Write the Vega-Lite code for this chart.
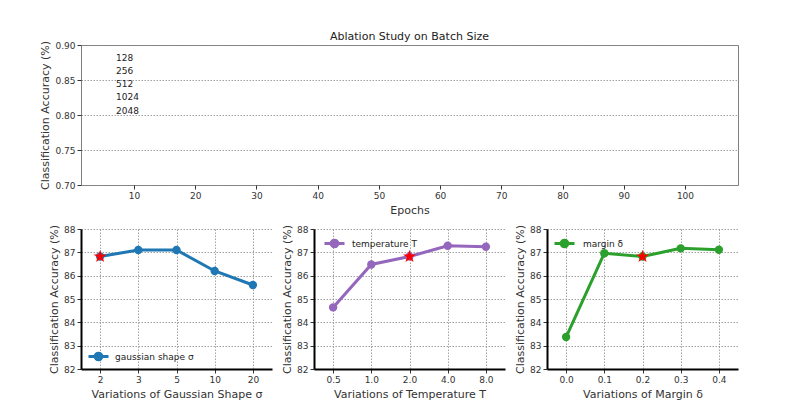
{
  "$schema": "https://vega.github.io/schema/vega-lite/v6.json",
  "padding": {"left": 39, "top": 30, "right": 5, "bottom": 5},
  "background": "white",
  "config": {
    "font": "DejaVu Sans",
    "view": {"stroke": null},
    "axis": {
      "labelFont": "DejaVu Sans", "titleFont": "DejaVu Sans",
      "labelFontSize": 9, "titleFontSize": 11, "titleFontWeight": "normal",
      "labelColor": "#333333", "titleColor": "#333333", "tickColor": "#333333",
      "gridDash": [1.5, 1.5], "gridColor": "#8a8a8a", "gridWidth": 0.8,
      "tickSize": 4
    },
    "legend": {"labelFont": "DejaVu Sans", "labelFontSize": 9, "labelColor": "#222222", "padding": 0}
  },
  "bounds": "flush",
  "spacing": 44,
  "resolve": {"scale": {"color": "independent", "x": "independent", "y": "independent"}, "legend": {"color": "independent"}},
  "vconcat": [
    {
      "width": 657,
      "height": 140,
      "title": {"text": "Ablation Study on Batch Size", "fontSize": 11, "fontWeight": "normal", "font": "DejaVu Sans", "color": "#222222", "offset": -2},
      "view": {"stroke": "#808080", "strokeWidth": 1},
      "data": {"values": [{"batch": "128"}, {"batch": "256"}, {"batch": "512"}, {"batch": "1024"}, {"batch": "2048"}]},
      "mark": {"type": "line"},
      "encoding": {
        "x": {"field": "epoch", "type": "quantitative",
          "scale": {"domain": [1.34, 108.66], "nice": false, "zero": false},
          "axis": {"values": [10, 20, 30, 40, 50, 60, 70, 80, 90, 100], "title": "Epochs", "grid": false, "domain": false, "titlePadding": 4}},
        "y": {"field": "acc", "type": "quantitative",
          "scale": {"domain": [0.7, 0.9], "nice": false, "zero": false},
          "axis": {"values": [0.7, 0.75, 0.8, 0.85, 0.9], "format": ".2f", "title": "Classification Accuracy (%)", "domain": false, "grid": true}},
        "color": {"field": "batch", "type": "nominal",
          "scale": {"domain": ["128", "256", "512", "1024", "2048"], "range": ["#1f77b4", "#ff7f0e", "#2ca02c", "#d62728", "#9467bd"]},
          "legend": {"orient": "none", "legendX": 20, "legendY": 8, "title": null, "symbolOpacity": 0, "symbolSize": 0, "labelOffset": 6, "rowPadding": 3.3}}
      }
    },
    {
      "hconcat": [
        {
          "width": 191,
          "height": 140,
          "data": {"values": [
            {"sigma": "2", "acc": 86.82, "series": "gaussian shape σ", "best": true},
            {"sigma": "3", "acc": 87.1, "series": "gaussian shape σ", "best": false},
            {"sigma": "5", "acc": 87.1, "series": "gaussian shape σ", "best": false},
            {"sigma": "10", "acc": 86.2, "series": "gaussian shape σ", "best": false},
            {"sigma": "20", "acc": 85.6, "series": "gaussian shape σ", "best": false}
          ]},
          "encoding": {
            "x": {"field": "sigma", "type": "ordinal", "sort": ["2", "3", "5", "10", "20"],
              "scale": {"type": "point", "padding": 0.5},
              "axis": {"labelAngle": 0, "title": "Variations of Gaussian Shape σ", "grid": true, "domainColor": "black", "domainWidth": 2, "titlePadding": 4}},
            "y": {"field": "acc", "type": "quantitative",
              "scale": {"domain": [82, 88], "nice": false, "zero": false},
              "axis": {"values": [82, 83, 84, 85, 86, 87, 88], "title": "Classification Accuracy (%)", "grid": true, "domainColor": "black", "domainWidth": 2}}
          },
          "layer": [
            {"mark": {"type": "line", "strokeWidth": 3},
              "encoding": {"color": {"field": "series", "type": "nominal", "scale": {"range": ["#1f77b4"]},
                "legend": {"orient": "none", "legendX": 6, "legendY": 116, "title": null, "labelOffset": 5,
                  "symbolType": "M-1,0H1M-0.33,0A0.33,0.33 0 1,1 0.33,0A0.33,0.33 0 1,1 -0.33,0Z", "symbolSize": 400,
                  "encode": {"symbols": {"update": {"shape": {"value": "M-1,0H1M-0.33,0A0.33,0.33 0 1,1 0.33,0A0.33,0.33 0 1,1 -0.33,0Z"}, "size": {"value": 400}, "stroke": {"value": "#1f77b4"}, "fill": {"value": "#1f77b4"}, "strokeWidth": {"value": 3}, "opacity": {"value": 1}}}}}}}},
            {"mark": {"type": "point", "filled": true, "size": 70, "opacity": 1},
              "encoding": {"color": {"field": "series", "type": "nominal"}}},
            {"transform": [{"filter": "datum.best"}],
              "mark": {"type": "point", "shape": "M0,-1L0.2245,-0.309L0.9511,-0.309L0.3633,0.118L0.5878,0.809L0,0.382L-0.5878,0.809L-0.3633,0.118L-0.9511,-0.309L-0.2245,-0.309Z", "filled": true, "size": 190, "color": "#ff0000", "opacity": 1}}
          ]
        },
        {
          "width": 191,
          "height": 140,
          "data": {"values": [
            {"temp": "0.5", "acc": 84.64, "series": "temperature T", "best": false},
            {"temp": "1.0", "acc": 86.48, "series": "temperature T", "best": false},
            {"temp": "2.0", "acc": 86.82, "series": "temperature T", "best": true},
            {"temp": "4.0", "acc": 87.28, "series": "temperature T", "best": false},
            {"temp": "8.0", "acc": 87.24, "series": "temperature T", "best": false}
          ]},
          "encoding": {
            "x": {"field": "temp", "type": "ordinal", "sort": ["0.5", "1.0", "2.0", "4.0", "8.0"],
              "scale": {"type": "point", "padding": 0.5},
              "axis": {"labelAngle": 0, "title": "Variations of Temperature T", "grid": true, "domainColor": "black", "domainWidth": 2, "titlePadding": 4}},
            "y": {"field": "acc", "type": "quantitative",
              "scale": {"domain": [82, 88], "nice": false, "zero": false},
              "axis": {"values": [82, 83, 84, 85, 86, 87, 88], "title": "Classification Accuracy (%)", "grid": true, "domainColor": "black", "domainWidth": 2}}
          },
          "layer": [
            {"mark": {"type": "line", "strokeWidth": 3},
              "encoding": {"color": {"field": "series", "type": "nominal", "scale": {"range": ["#9467bd"]},
                "legend": {"orient": "none", "legendX": 9, "legendY": 3, "title": null, "labelOffset": 6,
                  "symbolType": "M-1,0H1M-0.33,0A0.33,0.33 0 1,1 0.33,0A0.33,0.33 0 1,1 -0.33,0Z", "symbolSize": 400,
                  "encode": {"symbols": {"update": {"shape": {"value": "M-1,0H1M-0.33,0A0.33,0.33 0 1,1 0.33,0A0.33,0.33 0 1,1 -0.33,0Z"}, "size": {"value": 400}, "stroke": {"value": "#9467bd"}, "fill": {"value": "#9467bd"}, "strokeWidth": {"value": 3}, "opacity": {"value": 1}}}}}}}},
            {"mark": {"type": "point", "filled": true, "size": 70, "opacity": 1},
              "encoding": {"color": {"field": "series", "type": "nominal"}}},
            {"transform": [{"filter": "datum.best"}],
              "mark": {"type": "point", "shape": "M0,-1L0.2245,-0.309L0.9511,-0.309L0.3633,0.118L0.5878,0.809L0,0.382L-0.5878,0.809L-0.3633,0.118L-0.9511,-0.309L-0.2245,-0.309Z", "filled": true, "size": 190, "color": "#ff0000", "opacity": 1}}
          ]
        },
        {
          "width": 191,
          "height": 140,
          "data": {"values": [
            {"margin": "0.0", "acc": 83.37, "series": "margin δ", "best": false},
            {"margin": "0.1", "acc": 86.96, "series": "margin δ", "best": false},
            {"margin": "0.2", "acc": 86.82, "series": "margin δ", "best": true},
            {"margin": "0.3", "acc": 87.17, "series": "margin δ", "best": false},
            {"margin": "0.4", "acc": 87.11, "series": "margin δ", "best": false}
          ]},
          "encoding": {
            "x": {"field": "margin", "type": "ordinal", "sort": ["0.0", "0.1", "0.2", "0.3", "0.4"],
              "scale": {"type": "point", "padding": 0.5},
              "axis": {"labelAngle": 0, "title": "Variations of Margin δ", "grid": true, "domainColor": "black", "domainWidth": 2, "titlePadding": 4}},
            "y": {"field": "acc", "type": "quantitative",
              "scale": {"domain": [82, 88], "nice": false, "zero": false},
              "axis": {"values": [82, 83, 84, 85, 86, 87, 88], "title": "Classification Accuracy (%)", "grid": true, "domainColor": "black", "domainWidth": 2}}
          },
          "layer": [
            {"mark": {"type": "line", "strokeWidth": 3},
              "encoding": {"color": {"field": "series", "type": "nominal", "scale": {"range": ["#2ca02c"]},
                "legend": {"orient": "none", "legendX": 6, "legendY": 3, "title": null, "labelOffset": 7,
                  "symbolType": "M-1,0H1M-0.33,0A0.33,0.33 0 1,1 0.33,0A0.33,0.33 0 1,1 -0.33,0Z", "symbolSize": 400,
                  "encode": {"symbols": {"update": {"shape": {"value": "M-1,0H1M-0.33,0A0.33,0.33 0 1,1 0.33,0A0.33,0.33 0 1,1 -0.33,0Z"}, "size": {"value": 400}, "stroke": {"value": "#2ca02c"}, "fill": {"value": "#2ca02c"}, "strokeWidth": {"value": 3}, "opacity": {"value": 1}}}}}}}},
            {"mark": {"type": "point", "filled": true, "size": 70, "opacity": 1},
              "encoding": {"color": {"field": "series", "type": "nominal"}}},
            {"transform": [{"filter": "datum.best"}],
              "mark": {"type": "point", "shape": "M0,-1L0.2245,-0.309L0.9511,-0.309L0.3633,0.118L0.5878,0.809L0,0.382L-0.5878,0.809L-0.3633,0.118L-0.9511,-0.309L-0.2245,-0.309Z", "filled": true, "size": 190, "color": "#ff0000", "opacity": 1}}
          ]
        }
      ],
      "spacing": 42,
      "bounds": "flush",
      "resolve": {"scale": {"color": "independent", "x": "independent", "y": "independent"}, "legend": {"color": "independent"}}
    }
  ]
}
